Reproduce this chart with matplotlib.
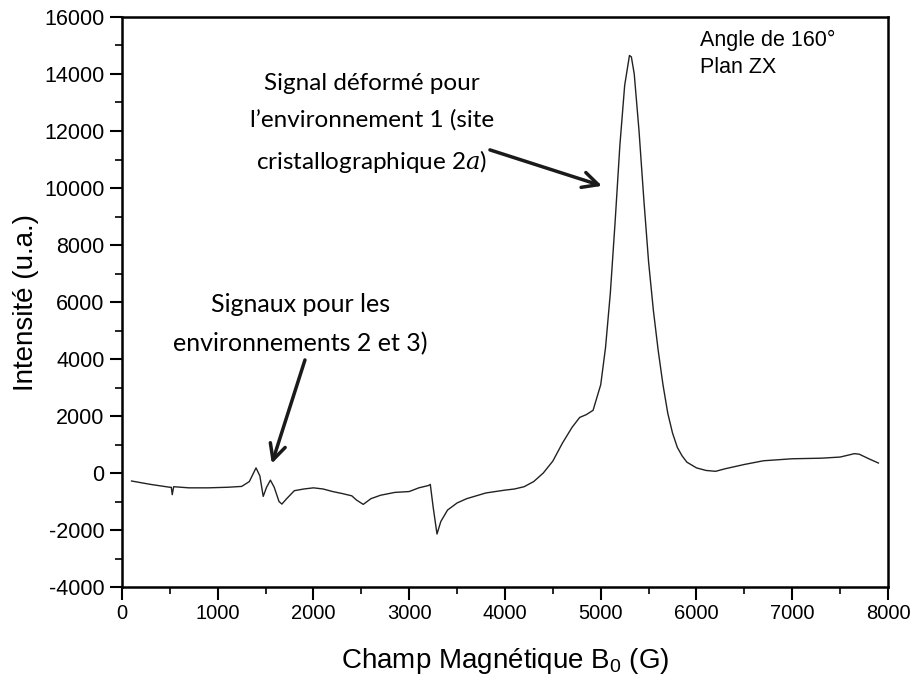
import matplotlib
matplotlib.use("Agg")
import matplotlib.pyplot as plt
from matplotlib.ticker import MultipleLocator

plt.rcParams['axes.unicode_minus'] = False
plt.rcParams['mathtext.fontset'] = 'custom'
plt.rcParams['mathtext.rm'] = 'Liberation Sans'
plt.rcParams['mathtext.it'] = 'DejaVu Serif:italic'

# EPR spectrum: magnetic field (G) vs intensity (a.u.)
field = [100, 300, 500, 515, 525, 540, 700, 900, 1100, 1250, 1330, 1400, 1440,
         1475, 1510, 1550, 1590, 1640, 1670, 1720, 1800, 1900, 2000, 2100, 2200,
         2300, 2400, 2450, 2520, 2600, 2700, 2850, 3000, 3100, 3200, 3220, 3250,
         3290, 3330, 3400, 3500, 3600, 3700, 3800, 3900, 4000, 4100, 4200, 4300,
         4400, 4500, 4600, 4700, 4780, 4850, 4920, 5000, 5050, 5100, 5150, 5200,
         5250, 5300, 5320, 5350, 5400, 5450, 5500, 5550, 5600, 5650, 5700, 5750,
         5800, 5850, 5900, 6000, 6100, 6200, 6300, 6500, 6700, 7000, 7300, 7500,
         7650, 7700, 7800, 7900]
intensity = [-280, -400, -500, -500, -760, -480, -520, -520, -500, -470, -300, 180,
             -100, -820, -500, -250, -500, -1000, -1090, -900, -620, -560, -520,
             -560, -650, -720, -800, -950, -1100, -900, -780, -680, -650, -520,
             -440, -400, -1200, -2140, -1700, -1300, -1050, -900, -800, -700, -650,
             -600, -560, -480, -300, 0, 420, 1050, 1600, 1950, 2050, 2200, 3100,
             4400, 6300, 8800, 11500, 13600, 14650, 14600, 14000, 12000, 9600, 7400,
             5700, 4300, 3100, 2100, 1400, 900, 600, 380, 180, 90, 60, 150, 300,
             430, 500, 520, 560, 680, 660, 500, 350]

x_ticks = [0, 1000, 2000, 3000, 4000, 5000, 6000, 7000, 8000]
y_ticks = [-4000, -2000, 0, 2000, 4000, 6000, 8000, 10000, 12000, 14000, 16000]

fig = plt.figure(figsize=(9.13, 6.77), dpi=100)
ax = fig.add_axes([0.1336, 0.1329, 0.8390, 0.8420])

ax.plot(field, intensity, color='#222222', lw=1.0)

ax.set_xlim(0, 8000)
ax.set_ylim(-4000, 16000)
ax.set_xticks(x_ticks)
ax.set_yticks(y_ticks)
ax.xaxis.set_minor_locator(MultipleLocator(500))
ax.yaxis.set_minor_locator(MultipleLocator(1000))
ax.tick_params(which='major', direction='out', length=9, width=1.5,
               top=False, right=False)
ax.tick_params(which='minor', direction='out', length=5, width=1.2,
               top=False, right=False)
for s in ax.spines.values():
    s.set_linewidth(1.8)

for lab in ax.get_xticklabels():
    lab.set_fontfamily('Liberation Sans')
    lab.set_fontsize(14.5)
for lab in ax.get_yticklabels():
    lab.set_fontfamily('Liberation Sans')
    lab.set_fontsize(15.5)

ax.set_xlabel('Champ Magnétique B$_\\mathrm{0}$ (G)', fontfamily='Liberation Sans',
              fontsize=20, labelpad=16)
ax.set_ylabel('Intensité (u.a.)', fontfamily='Liberation Sans', fontsize=20,
              labelpad=4)

ax.text(6040, 15550, 'Angle de 160°\nPlan ZX', fontfamily='Liberation Sans',
        fontsize=15.5, va='top', ha='left', linespacing=1.35)

ax.text(2610, 12250, 'Signal déformé pour\nl\u2019environnement 1 (site\ncristallographique 2$a$)',
        fontfamily='Lato', fontsize=17.5, ha='center', va='center', linespacing=1.85)
ax.annotate('', xy=(5013, 10074), xytext=(3843, 11337),
            arrowprops=dict(arrowstyle='->', lw=2.5, color='#1a1a1a',
                            mutation_scale=28, shrinkA=0, shrinkB=0))

ax.text(1860, 5230, 'Signaux pour les\nenvironnements 2 et 3)',
        fontfamily='Lato', fontsize=18, ha='center', va='center', linespacing=1.85)
ax.annotate('', xy=(1565, 330), xytext=(1911, 3966),
            arrowprops=dict(arrowstyle='->', lw=2.5, color='#1a1a1a',
                            mutation_scale=28, shrinkA=0, shrinkB=0))

fig.savefig('out.png', dpi=100)
